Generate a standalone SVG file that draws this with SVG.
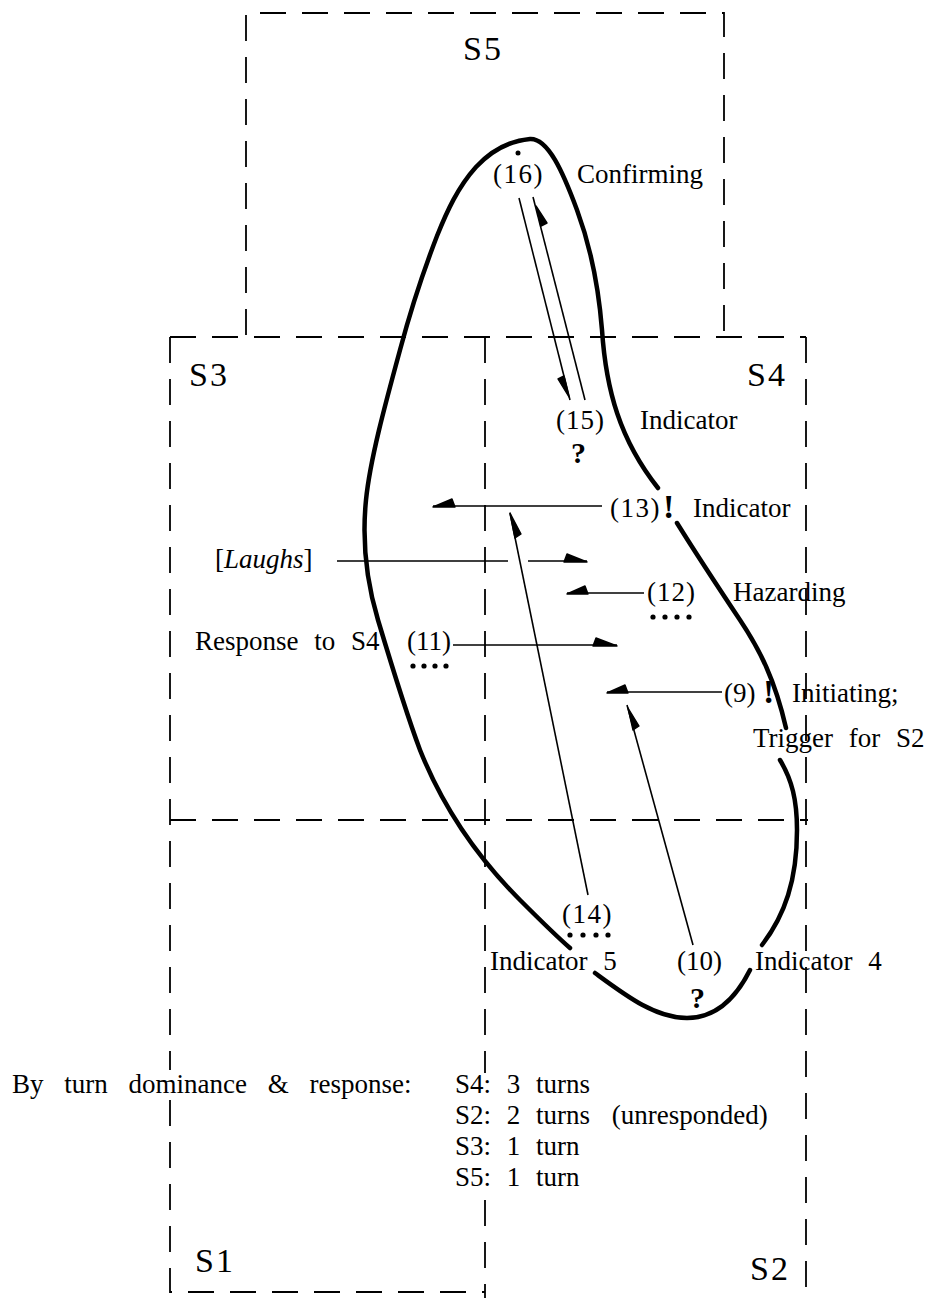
<svg xmlns="http://www.w3.org/2000/svg" width="932" height="1298" viewBox="0 0 932 1298">
<style>
.t{font-family:"Liberation Serif","Times New Roman",serif;font-size:27px;fill:#000;word-spacing:9px}
.lbl{font-size:34px;letter-spacing:2px}
.b{font-weight:bold}
.bang{font-size:34px}
.q{font-size:30px}
.dash{fill:none;stroke:#000;stroke-width:1.8;stroke-dasharray:26 16}
.blob{fill:none;stroke:#000;stroke-width:4.5;stroke-linecap:round}
.ln{fill:none;stroke:#000;stroke-width:1.6}
.hd{fill:#000;stroke:#000;stroke-width:1.4;stroke-linejoin:round}
.dot{fill:#000}
</style>
<rect width="932" height="1298" fill="#fff"/>
<g id="regions">
  <path class="dash" d="M246,335 V13 H724 V337"/>
  <path class="dash" d="M170,337 H806"/>
  <path class="dash" d="M170,337 V1070 M170,1100 V1292 H485"/>
  <path class="dash" d="M485,337 V1073 M485,1200 V1298"/>
  <path class="dash" d="M806,337 V1298"/>
  <path class="dash" d="M170,820 H808"/>
</g>
<g id="speaker-labels">
  <text class="t lbl" x="463" y="60">S5</text>
  <text class="t lbl" x="189" y="386">S3</text>
  <text class="t lbl" x="747" y="386">S4</text>
  <text class="t lbl" x="195" y="1272">S1</text>
  <text class="t lbl" x="750" y="1280">S2</text>
</g>
<g id="blob">
  <path class="blob" d="M658,488 C620,440 606,390 602,330 C598,280 590,245 577,210 C563,172 548,138 530,139 C508,141 490,152 476,167 C458,187 447,211 437,236 C420,280 408,320 400,350 C385,405 370,460 366,500 C362,540 366,580 378,620 C390,660 405,710 420,750 C440,800 470,850 520,900 C540,920 555,935 570,948"/>
  <path class="blob" d="M677,523 C700,560 720,590 740,620 C760,650 775,680 786,728"/>
  <path class="blob" d="M780,760 C792,780 797,800 797,830 C797,880 785,915 762,945"/>
  <path class="blob" d="M750,970 C735,1000 715,1018 687,1018 C655,1018 625,995 595,973"/>
</g>
<g id="connectors">
  <path class="ln" d="M519,198 L570,400"/>
  <polygon class="hd" points="569,397 564,376 558,379"/>
  <path class="ln" d="M533,197 L585,400"/>
  <polygon class="hd" points="536,206 541,226 547,223"/>
  <path class="ln" d="M602,506 H433"/>
  <polygon class="hd" points="433,507 452,499 455,507"/>
  <path class="ln" d="M588,895 L510,513"/>
  <polygon class="hd" points="510,513 515,538 521,534"/>
  <path class="ln" d="M337,561 H508 M528,561 H587"/>
  <polygon class="hd" points="587,562 567,554 564,562"/>
  <path class="ln" d="M644,593 H567"/>
  <polygon class="hd" points="567,594 585,586 588,594"/>
  <path class="ln" d="M453,645 H617"/>
  <polygon class="hd" points="617,646 596,638 593,646"/>
  <path class="ln" d="M722,692 H607"/>
  <polygon class="hd" points="607,693 625,685 628,693"/>
  <path class="ln" d="M693,945 L627,705"/>
  <polygon class="hd" points="628,708 633,730 639,726"/>
</g>
<g id="n16">
  <circle class="dot" cx="518" cy="153" r="2.5"/>
  <text class="t" x="493" y="183" letter-spacing="1.5">(16)</text>
  <text class="t" x="577" y="183">Confirming</text>
</g>
<g id="n15">
  <text class="t" x="556" y="429" letter-spacing="1">(15)</text>
  <text class="t b q" x="571" y="463">?</text>
  <text class="t" x="640" y="429">Indicator</text>
</g>
<g id="n13">
  <text class="t" x="610" y="517" letter-spacing="1.5">(13)</text>
  <text class="t b bang" x="663" y="518">!</text>
  <text class="t" x="693" y="517">Indicator</text>
</g>
<g id="laughs">
  <text class="t" x="215" y="568">[<tspan font-style="italic">Laughs</tspan>]</text>
</g>
<g id="n12">
  <text class="t" x="647" y="601" letter-spacing="1">(12)</text>
  <circle class="dot" cx="653" cy="617" r="2.6"/>
  <circle class="dot" cx="665" cy="617" r="2.6"/>
  <circle class="dot" cx="677" cy="617" r="2.6"/>
  <circle class="dot" cx="689" cy="617" r="2.6"/>
  <text class="t" x="733" y="601">Hazarding</text>
</g>
<g id="n11">
  <text class="t" x="195" y="650">Response to S4</text>
  <text class="t" x="407" y="650">(11)</text>
  <circle class="dot" cx="413" cy="666" r="2.6"/>
  <circle class="dot" cx="424" cy="666" r="2.6"/>
  <circle class="dot" cx="435" cy="666" r="2.6"/>
  <circle class="dot" cx="446" cy="666" r="2.6"/>
</g>
<g id="n9">
  <text class="t" x="724" y="702">(9)</text>
  <text class="t b bang" x="763" y="703">!</text>
  <text class="t" x="792" y="702">Initiating;</text>
  <text class="t" x="753" y="747">Trigger for S2</text>
</g>
<g id="n14">
  <text class="t" x="562" y="923" letter-spacing="1.5">(14)</text>
  <circle class="dot" cx="570" cy="935" r="2.6"/>
  <circle class="dot" cx="583" cy="935" r="2.6"/>
  <circle class="dot" cx="596" cy="935" r="2.6"/>
  <circle class="dot" cx="608" cy="935" r="2.6"/>
  <text class="t" x="490" y="970">Indicator 5</text>
</g>
<g id="n10">
  <text class="t" x="677" y="970">(10)</text>
  <text class="t b q" x="690" y="1008">?</text>
  <text class="t" x="755" y="970">Indicator 4</text>
</g>
<g id="summary">
  <text class="t" x="12" y="1093" style="word-spacing:14px">By turn dominance &amp; response:</text>
  <text class="t" x="455" y="1093">S4: 3 turns</text>
  <text class="t" x="455" y="1124">S2: 2 turns <tspan dx="6">(unresponded)</tspan></text>
  <text class="t" x="455" y="1155">S3: 1 turn</text>
  <text class="t" x="455" y="1186">S5: 1 turn</text>
</g>
</svg>
